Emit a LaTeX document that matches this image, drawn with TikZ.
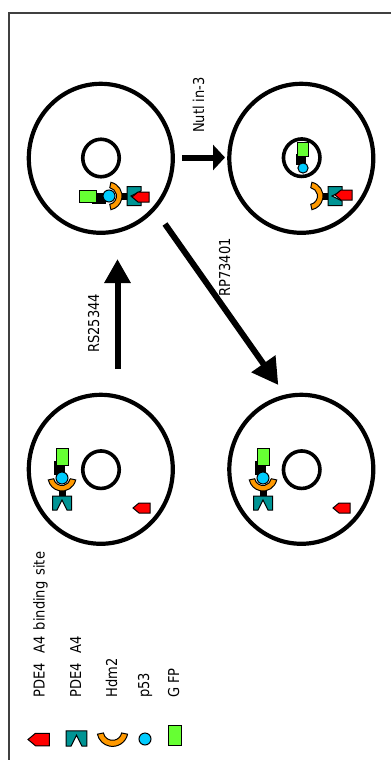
\documentclass[tikz,border=0pt]{standalone}
\usepackage{fontspec}
\setmainfont{DejaVu Sans}[FakeStretch=0.87]
\usetikzlibrary{arrows.meta,shapes.geometric,calc}

\definecolor{siteRed}{HTML}{FF0000}
\definecolor{pdeTeal}{HTML}{009494}
\definecolor{hdmOrange}{HTML}{FF9900}
\definecolor{pCyan}{HTML}{00CCFF}
\definecolor{gfpGreen}{HTML}{66FF33}
\definecolor{frameGray}{HTML}{404040}

\tikzset{
  cellbody/.style={ellipse, draw, line width=4.2pt, minimum width=144pt,
    minimum height=149pt, inner sep=0pt, outer sep=0pt},
  nucleusbody/.style={ellipse, draw, line width=3.6pt, minimum width=36.5pt,
    minimum height=37.5pt, inner sep=0pt, outer sep=0pt},
  part/.style={draw=black, line width=1pt, line join=miter},
  bigarrow/.style={line width=6pt},
  lbl/.style={font=\fontsize{15}{18}\selectfont, inner sep=0pt, rotate=90},
  % single components, each drawn around its own origin
  gfp/.pic={\draw[part, fill=gfpGreen] (-6,-8.5) rectangle (6,8.5);},
  ptf/.pic={\draw[part, fill=pCyan] (0,0) circle[radius=6];},
  hdm/.pic={\draw[part, fill=hdmOrange] (12:14) arc[start angle=12, end angle=168, radius=14]
      -- (168:8.5) arc[start angle=168, end angle=12, radius=8.5] -- cycle;},
  pde/.pic={\draw[part, fill=pdeTeal] (-9.5,-7) -- (9.5,-7) -- (9.5,7) -- (5,7)
      -- (0,-3) -- (-5,7) -- (-9.5,7) -- cycle;},
  site/.pic={\draw[part, fill=siteRed] (0,0) -- (6,-5) -- (17,-5) -- (17,5) -- (6,5) -- cycle;},
  % Hdm2 bound to PDE4A4, origin at the Hdm2 pocket
  hdmpde/.pic={
    \fill[black] (-3.5,9) rectangle (3.5,19);
    \pic at (0,25) {pde};
    \pic at (0,-1) {hdm};},
  % GFP-p53 fusion, origin at p53
  gfpp/.pic={
    \fill[black] (-8,-17) rectangle (3,-3);
    \pic at (0,-21.5) {gfp};
    \pic at (0,0) {ptf};},
}

\begin{document}
\begin{tikzpicture}[x=1pt, y=-1pt]
\useasboundingbox (0,0) rectangle (391,760);

% frame
\draw[frameGray, line width=1.5pt] (9,760) -- (9,13) -- (391,13);

% cells and nuclei
\node[cellbody] (cA) at (100.8,158.3) {};
\node[cellbody] (cB) at (301.3,158.3) {};
\node[cellbody] (cC) at (100.8,469.3) {};
\node[cellbody] (cD) at (301.3,469.3) {};
\node[nucleusbody] (nA) at (101,158) {};
\node[nucleusbody] (nB) at (301.7,157.7) {};
\node[nucleusbody] (nC) at (101,469.7) {};
\node[nucleusbody] (nD) at (301.7,469.7) {};

% cell A: full complex in the cytoplasm
\begin{scope}[shift={(109,196)}, rotate=90, transform shape]
  \pic {hdmpde};
  \pic {gfpp};
\end{scope}
\pic at (132,197) {site};

% cell B: GFP-p53 in the nucleus, Hdm2-PDE4A4 left outside
\begin{scope}[shift={(310,196)}, rotate=90, transform shape]
  \pic {hdmpde};
\end{scope}
\pic at (335,195) {site};
\begin{scope}[shift={(303,168)}, scale=0.85, transform shape]
  \pic {gfpp};
\end{scope}

% cells C and D: complex without the binding site
\begin{scope}[shift={(62,478)}]
  \pic {hdmpde};
  \pic {gfpp};
\end{scope}
\pic at (133,508) {site};
\begin{scope}[shift={(263,478)}]
  \pic {hdmpde};
  \pic {gfpp};
\end{scope}
\pic at (333,508) {site};

% treatments
\draw[bigarrow, -{Triangle[length=12pt, width=25pt]}]
  ($(cA.center)+(81.2,-0.8)$) -- ($(cB.center)+(-76.3,-0.8)$);
\draw[bigarrow, -{Triangle[length=24pt, width=25pt]}]
  ($(cC.center)+(16.7,-100.3)$) -- ($(cA.center)+(16.7,100.7)$);
\draw[bigarrow, -{Triangle[length=26pt, width=28pt]}]
  ($(cA.center)+(64.2,65.7)$) -- ($(cD.center)+(-23,-84.3)$);

\node[lbl, anchor=base] (tNut) at (204,105) {Nutl in-3};
\node[lbl, anchor=base] (tRS) at (99,323.5) {RS25344};
\node[lbl, anchor=base] (tRP) at (230,267.5) {RP73401};

% legend
\pic[scale=1.25] at (28,739.5) {site};
\pic[scale=1.1] at (76.5,738.5) {pde};
\pic[scale=1.1] at (112.5,731) {hdm};
\pic at (145,739) {ptf};
\draw[part, fill=gfpGreen] (168,725) rectangle (181,745);

\node[lbl, anchor=base west] (kSite) at (44.5,698) {PDE4\hspace{10pt}A4\hspace{6pt}binding\hspace{6pt}site};
\node[lbl, anchor=base west] (kPde) at (81,698) {PDE4\hspace{10pt}A4};
\node[lbl, anchor=base west] (kHdm) at (117,698) {Hdm2};
\node[lbl, anchor=base west] (kP53) at (149,698) {p53};
\node[lbl, anchor=base west] (kGfp) at (179,698) {G FP};
\end{tikzpicture}
\end{document}
